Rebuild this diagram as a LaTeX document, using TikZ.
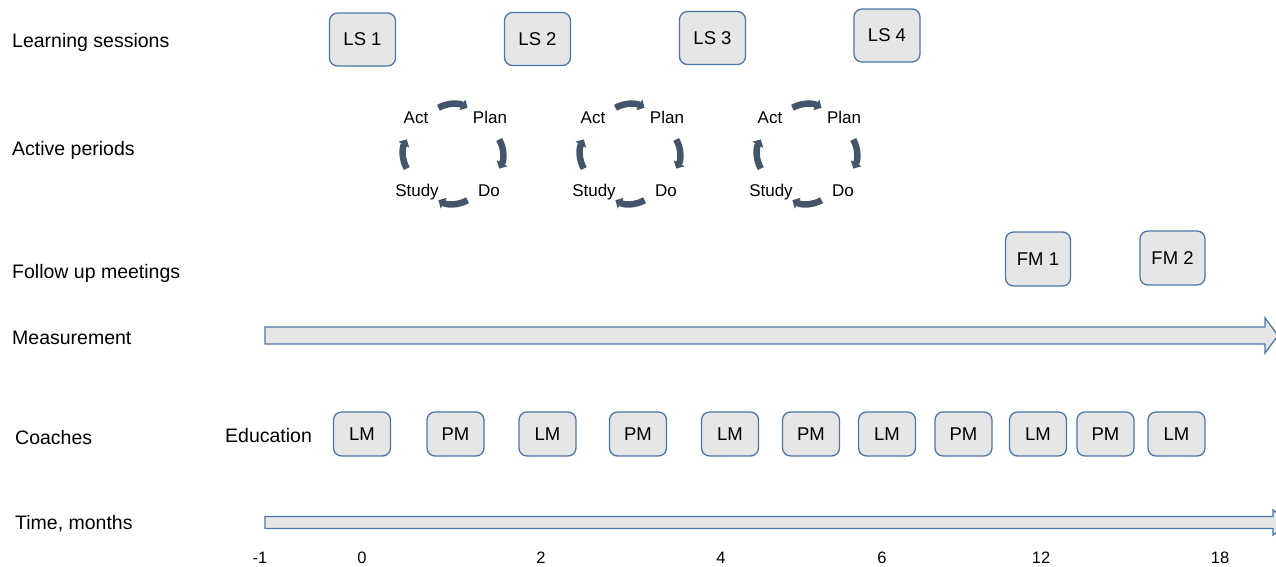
\documentclass[tikz,border=0pt]{standalone}
\usepackage{fontspec}
\setmainfont{Liberation Sans}
\usetikzlibrary{arrows.meta}
\definecolor{boxfill}{HTML}{E6E6E6}
\definecolor{boxline}{HTML}{4A76A8}
\definecolor{cycfill}{HTML}{44546A}
\begin{document}
\begin{tikzpicture}[x=1pt,y=-1pt,
  rowlbl/.style={anchor=base west, font=\fontsize{19.5}{22}\selectfont, inner sep=0pt},
  box/.style={draw=boxline, fill=boxfill, line width=1.3pt, rounded corners=8pt,
              font=\fontsize{18.5}{22}\selectfont, inner sep=0pt},
  lsbox/.style={box, minimum width=66pt, minimum height=53pt},
  fmbox/.style={box, minimum width=65pt, minimum height=54pt},
  cbox/.style={box, minimum width=57pt, minimum height=44pt},
  cyclbl/.style={anchor=base, font=\fontsize{17}{20}\selectfont, inner sep=0pt},
  cycarrow/.style={draw=cycfill, line width=6.5pt, -{Triangle[length=6pt,width=12pt]}},
  bar/.style={draw=boxline, fill=boxfill, line width=1.3pt, line join=miter},
  ticklbl/.style={anchor=base, font=\fontsize{16.5}{19}\selectfont, inner sep=0pt}
]
\useasboundingbox (0,0) rectangle (1276,566);

% row labels
\node[rowlbl] (rLS) at (12,47) {Learning sessions};
\node[rowlbl] (rAP) at (12,155) {Active periods};
\node[rowlbl] (rFM) at (12,278) {Follow up meetings};
\node[rowlbl] (rMe) at (12,344) {Measurement};
\node[rowlbl] (rCo) at (15,444) {Coaches};
\node[rowlbl] (rTi) at (15,529) {Time, months};
\node[rowlbl] (rEd) at (225,442) {Education};

% learning sessions
\node[lsbox] (ls1) at (362.5,39.5) {LS 1};
\node[lsbox] (ls2) at (537.5,39) {LS 2};
\node[lsbox] (ls3) at (712.5,38) {LS 3};
\node[lsbox] (ls4) at (887,35.5) {LS 4};

% PDSA cycles
\foreach \cx/\n in {453/1,630/2,807/3}{
  \coordinate (c\n) at (\cx,154);
  \node[cyclbl] (act\n)   at (\cx-37,123) {Act};
  \node[cyclbl] (plan\n)  at (\cx+37,123) {Plan};
  \node[cyclbl] (study\n) at (\cx-36,196) {Study};
  \node[cyclbl] (do\n)    at (\cx+36,196) {Do};
  \foreach \p in {-90,0,90,180}{
    \draw[cycarrow] ([shift={(\p:20)}]c\n) ++(\p-29:30)
      arc[start angle=\p-29, end angle=\p+29, radius=30];
  }
}

% follow up meetings
\node[fmbox] (fm1) at (1038,259) {FM 1};
\node[fmbox] (fm2) at (1172.5,258) {FM 2};

% measurement bar
\draw[bar] (265,327) -- (1265,327) -- (1265,318) -- (1278,335.5) -- (1265,353) -- (1265,344) -- (265,344) -- cycle;

% coaches
\node[cbox] (lm1) at (362,434) {LM};
\node[cbox] (pm1) at (455.5,434) {PM};
\node[cbox] (lm2) at (547.5,434) {LM};
\node[cbox] (pm2) at (638,434) {PM};
\node[cbox] (lm3) at (730,434) {LM};
\node[cbox] (pm3) at (811,434) {PM};
\node[cbox] (lm4) at (887,434) {LM};
\node[cbox] (pm4) at (963.5,434) {PM};
\node[cbox] (lm5) at (1038,434) {LM};
\node[cbox] (pm5) at (1105.5,434) {PM};
\node[cbox] (lm6) at (1176.5,434) {LM};

% time bar
\draw[bar] (265,516.5) -- (1273,516.5) -- (1273,510) -- (1290,522.5) -- (1273,535) -- (1273,528.5) -- (265,528.5) -- cycle;

% ticks
\node[ticklbl] (tm1) at (260,563) {-1};
\node[ticklbl] (t0) at (362,563) {0};
\node[ticklbl] (t2) at (541,563) {2};
\node[ticklbl] (t4) at (721,563) {4};
\node[ticklbl] (t6) at (882,563) {6};
\node[ticklbl] (t12) at (1041,563) {12};
\node[ticklbl] (t18) at (1220,563) {18};
\end{tikzpicture}
\end{document}
